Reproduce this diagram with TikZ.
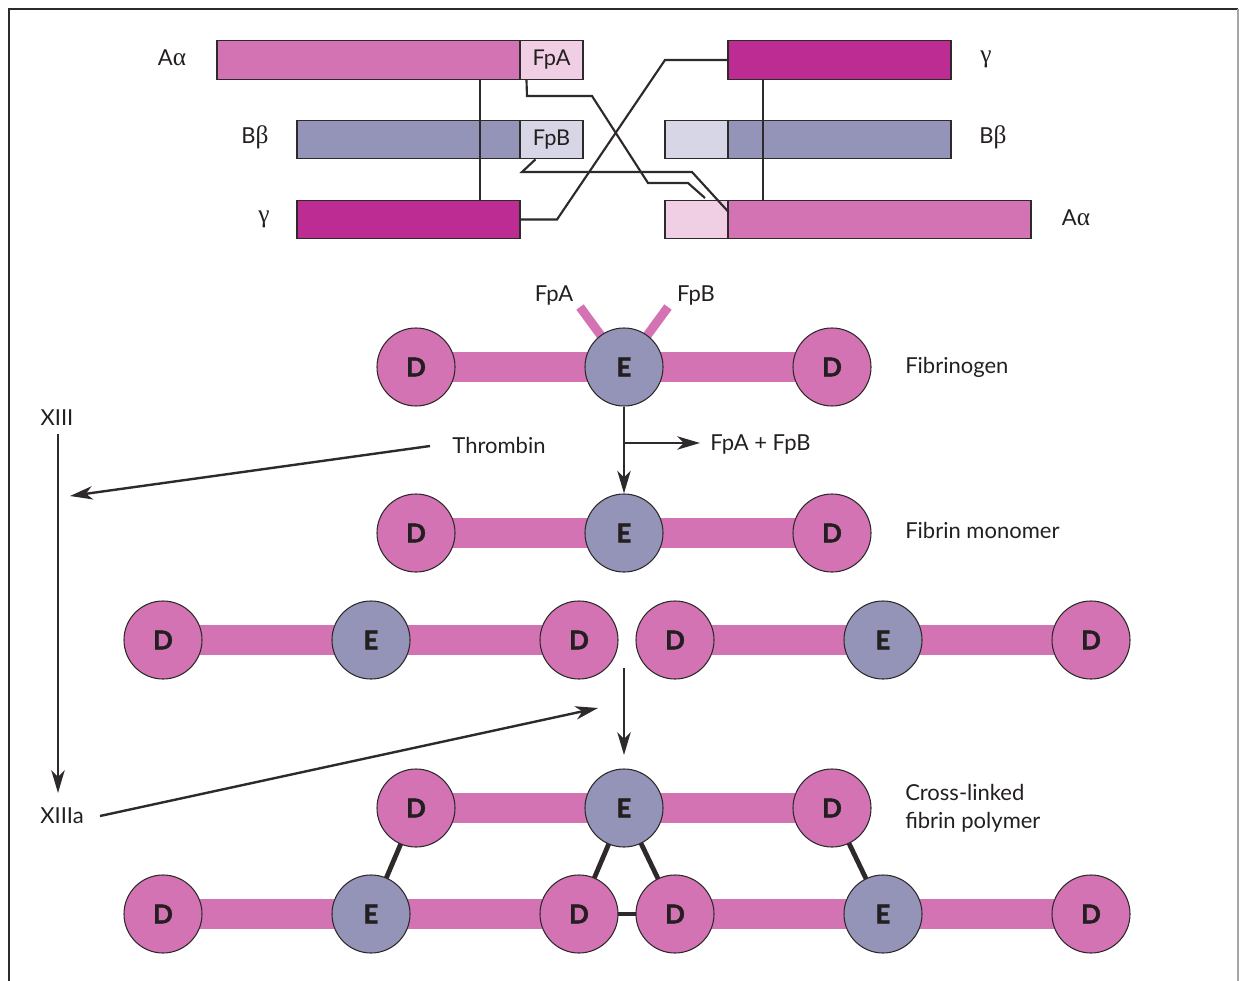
\documentclass[tikz,border=0pt]{standalone}
\usepackage{fontspec}
\setmainfont{Lato}[BoldFeatures={FakeBold=1.6}]
\newfontfamily\grk{Liberation Serif}
\usetikzlibrary{arrows.meta}
\definecolor{pk}{HTML}{D473B4}
\definecolor{lav}{HTML}{9494B8}
\definecolor{mag}{HTML}{BC2C92}
\definecolor{lpk}{HTML}{F0CEE4}
\definecolor{llav}{HTML}{D6D6E6}
\definecolor{txt}{HTML}{231F20}
\definecolor{edge}{HTML}{2E2A2B}
\pgfdeclarelayer{bg}
\pgfsetlayers{bg,main}
\newcommand{\gk}[1]{{\grk\fontsize{19}{19}\selectfont #1}}
\begin{document}
\begin{tikzpicture}[x=0.75pt,y=-0.75pt,
  lbl/.style={font=\fontsize{16.5}{21}\selectfont, text=txt, inner sep=0pt},
  bar/.style={draw=edge, line width=0.8pt, minimum height=29pt, inner sep=0pt, font=\fontsize{16.3}{17}\selectfont, text=txt},
  dn/.style={circle, draw=edge, line width=0.8pt, fill=pk, minimum size=58.5pt, inner sep=0pt, font=\bfseries\fontsize{19.5}{19.5}\selectfont, text=txt},
  en/.style={dn, fill=lav},
  rod/.style={draw=edge, line width=0.6pt, double=pk, double distance=22pt},
  link/.style={draw=edge, line width=1.6pt},
  xl/.style={draw=edge, line width=3.6pt},
  arr/.style={draw=edge, line width=1.8pt, -{Stealth[length=17pt,width=10pt,inset=5pt]}}
]
\useasboundingbox (0,0) rectangle (1239,981);
% frame
\draw[edge, line width=1.4pt] (9,981) -- (9,9) -- (1238,9);
\draw[gray!70, line width=0.8pt] (1238,9) -- (1238,981);

% ---------- top chains ----------
\node[bar, fill=pk, minimum width=227.25pt] (aL) at (368.5,60) {};
\node[bar, fill=lpk, minimum width=47.25pt] (fpa) at (551.5,60) {FpA};
\node[bar, fill=lav, minimum width=167.25pt] (bL) at (408.5,139.5) {};
\node[bar, fill=llav, minimum width=47.25pt] (fpb) at (551.5,139.5) {FpB};
\node[bar, fill=mag, minimum width=167.25pt] (gL) at (408.5,219.5) {};

\node[bar, fill=mag, minimum width=167.25pt] (gR) at (839.5,60) {};
\node[bar, fill=llav, minimum width=47.25pt] (bRl) at (696.5,139.5) {};
\node[bar, fill=lav, minimum width=167.25pt] (bR) at (839.5,139.5) {};
\node[bar, fill=lpk, minimum width=47.25pt] (aRl) at (696.5,219.5) {};
\node[bar, fill=pk, minimum width=227.25pt] (aR) at (879.5,219.5) {};

\node[lbl] (laL) at (172,58) {A\gk{α}};
\node[lbl] (lbL) at (255,137) {B\gk{β}};
\node[lbl] (lgL) at (264,219) {\gk{γ}};
\node[lbl] (lgR) at (986,59) {\gk{γ}};
\node[lbl] (lbR) at (993,137) {B\gk{β}};
\node[lbl] (laR) at (1076,218) {A\gk{α}};

\coordinate (vL) at (480,0);
\coordinate (vR) at (763,0);
\draw[link] (aL.south -| vL) -- (gL.north -| vL);
\draw[link] (gR.south -| vR) -- (aR.north -| vR);

% gamma cross-link
\draw[link] (gL.east) -- (557,219.5) -- (665,60) -- (gR.west);
% FpA path
\draw[link] (fpa.south west) ++(7,0) -- (527,96) -- (592,96) -- (648,183) -- (688,183) -- (705,198);
% FpB path
\draw[link] (fpb.south west) ++(16,0) -- (522,172) -- (692,172) -- (aRl.east |- 0,212);

% ---------- fibrinogen ----------
\node[dn] (a1) at (416,367) {D};
\node[en] (a2) at (624,367) {E};
\node[dn] (a3) at (832,367) {D};
\coordinate (sa) at (580,307);
\coordinate (sb) at (668,307);
\begin{pgfonlayer}{bg}
\draw[rod] (a1.center) -- (a3.center);
\draw[pk, line width=6.8pt] (a2.center) -- (sa);
\draw[pk, line width=6.8pt] (a2.center) -- (sb);
\end{pgfonlayer}
\node[lbl] (tfpa) at (554,296) {FpA};
\node[lbl] (tfpb) at (696,296) {FpB};
\node[lbl, anchor=west] (tfib) at (905,367) {Fibrinogen};

% ---------- fibrin monomer ----------
\node[dn] (b1) at (416,533) {D};
\node[en] (b2) at (624,533) {E};
\node[dn] (b3) at (832,533) {D};
\begin{pgfonlayer}{bg}
\draw[rod] (b1.center) -- (b3.center);
\end{pgfonlayer}
\node[lbl, anchor=west] (tmon) at (905,530) {Fibrin monomer};

\node[lbl, anchor=west] (fpab) at (710,445) {FpA + FpB};
\draw[arr] (a2.south) -- (b2.north);
\draw[arr] (a2.south |- 0,443) -- ([xshift=-7.5pt]fpab.west |- 0,443);

\node[lbl] (thr) at (499,445) {Thrombin};
\node[lbl] (x13) at (57,418) {XIII};
\node[lbl] (x13a) at (62,816) {XIIIa};
\coordinate (t1) at (430,446);
\coordinate (t2) at (70,496);
\draw[arr] (t1) -- (t2);
\draw[arr] (x13.south -| 58,0) ++(0,8) -- (58,793);
\coordinate (u1) at (100,816);
\coordinate (u2) at (598,708);
\draw[arr] (u1) -- (u2);

% ---------- row 3 ----------
\node[dn] (c1) at (163,640) {D};
\node[en] (c2) at (371,640) {E};
\node[dn] (c3) at (579,640) {D};
\node[dn] (c4) at (675,640) {D};
\node[en] (c5) at (883,640) {E};
\node[dn] (c6) at (1091,640) {D};
\begin{pgfonlayer}{bg}
\draw[rod] (c1.center) -- (c3.center);
\draw[rod] (c4.center) -- (c6.center);
\end{pgfonlayer}
\coordinate (m1) at (624,668);
\coordinate (m2) at (624,755);
\draw[arr] (m1) -- (m2);

% ---------- polymer ----------
\node[dn] (d1) at (416,808) {D};
\node[en] (d2) at (624,808) {E};
\node[dn] (d3) at (832,808) {D};
\node[dn] (e1) at (163,914) {D};
\node[en] (e2) at (371,914) {E};
\node[dn] (e3) at (579,914) {D};
\node[dn] (e4) at (675,914) {D};
\node[en] (e5) at (883,914) {E};
\node[dn] (e6) at (1091,914) {D};
\begin{pgfonlayer}{bg}
\draw[rod] (d1.center) -- (d3.center);
\draw[rod] (e1.center) -- (e3.center);
\draw[rod] (e4.center) -- (e6.center);
\draw[xl] (d1.center) -- (e2.center);
\draw[xl] (d2.center) -- (e3.center);
\draw[xl] (d2.center) -- (e4.center);
\draw[xl] (d3.center) -- (e5.center);
\draw[xl] (e3.center) -- (e4.center);
\end{pgfonlayer}
\node[lbl, anchor=west, align=left] (tpol) at (905,808) {Cross-linked\\fibrin polymer};
\end{tikzpicture}
\end{document}
